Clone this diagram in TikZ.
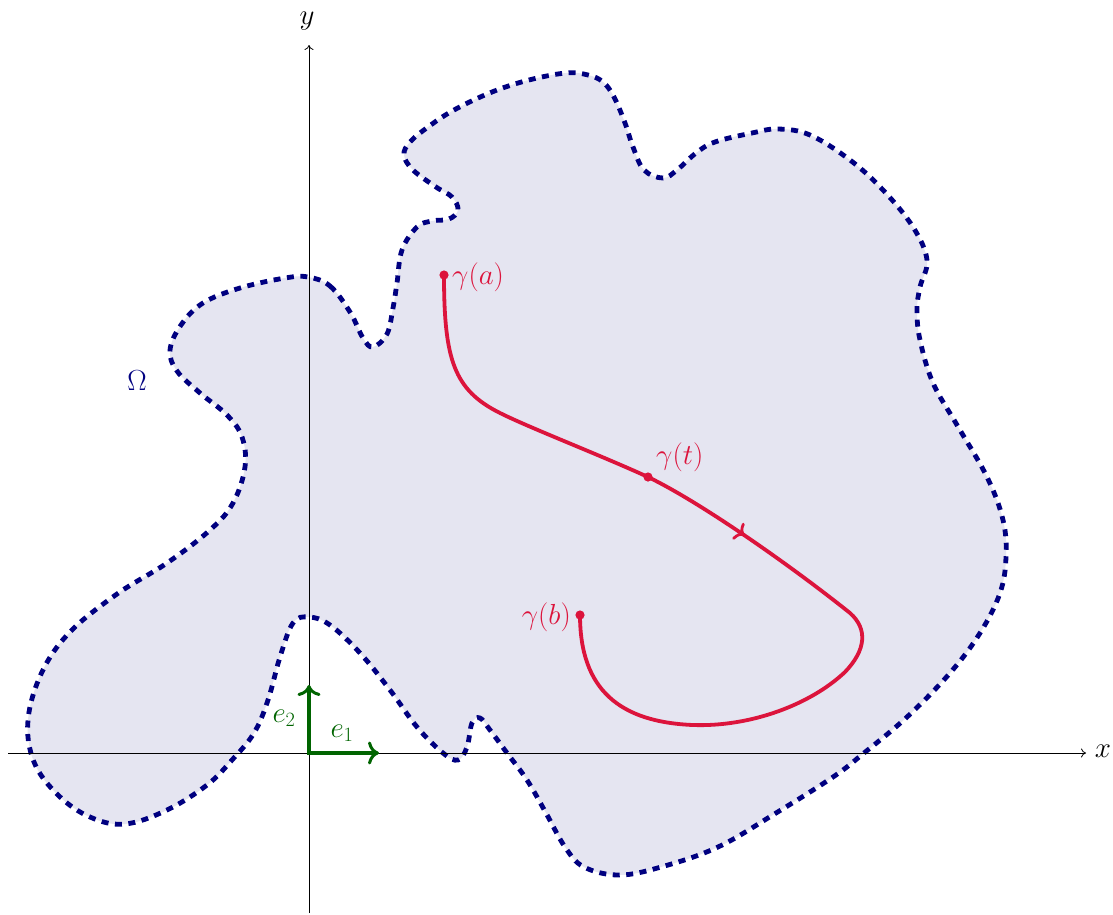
\documentclass[tikz,border=0pt]{standalone}
\usepackage{fix-cm}
\usetikzlibrary{decorations.markings,arrows.meta}
\definecolor{omeganavy}{RGB}{0,0,128}
\definecolor{omegafill}{RGB}{229,229,241}
\definecolor{curvered}{RGB}{220,20,60}
\definecolor{basisgreen}{RGB}{0,100,0}
\begin{document}
\begin{tikzpicture}[x=1pt,y=-1pt,
  lbl/.style={font=\fontsize{29}{34}\selectfont, inner sep=1pt},
  axisline/.style={line width=0.8pt,-{To[length=5pt,width=9pt]}},
  boundary/.style={draw=omeganavy, line width=4.8pt, dash pattern=on 7pt off 6.5pt,
     fill=omegafill, preaction={draw=white, line width=7pt}},
  curve/.style={draw=curvered, line width=3.8pt, line cap=round,
     postaction={decorate},
     decoration={markings, mark=at position 0.443 with {\arrow[line width=2.8pt]{To[length=8pt,width=20pt]}}}},
  basisvec/.style={draw=basisgreen, line width=3.8pt, -{To[length=11pt,width=23pt,line width=3pt]}},
  dotmark/.style={fill=curvered}
]
\useasboundingbox (0,0) rectangle (1113,914);

% region Omega
\path[boundary] plot[smooth cycle, tension=0.62] coordinates {
 (308,277) (330,286) (350,312) (363,338) (373,347) (387,334) (393,308) (397,283)
 (402,250) (417,227) (432,221) (449,219) (458,210) (452,197) (436,187) (413,170)
 (404,155) (410,142) (428,127) (454,110) (492,92) (529,80) (566,73) (588,75)
 (603,82) (614,97) (625,123) (633,147) (644,170) (663,178) (677,170) (696,153)
 (715,142) (752,133) (778,129) (810,135) (850,160) (883,190) (913,227) (927,260)
 (920,287) (917,310) (920,340) (933,383) (957,425) (987,477) (1003,520) (1006,557)
 (1000,593) (980,633) (950,673) (907,717) (864,753) (833,777) (776,813) (718,847)
 (661,867) (619,875) (584,867) (565,847) (546,813) (527,780) (507,753) (490,730)
 (480,718) (472,723) (467,747) (458,760) (443,753) (417,727) (390,690) (360,653)
 (330,625) (309,617) (293,623) (280,657) (268,700) (254,733) (232,760) (207,785)
 (167,810) (125,824) (90,817) (58,795) (34,762) (28,720) (42,672) (70,632)
 (117,594) (167,563) (210,530) (233,503) (245,467) (242,437) (227,415) (200,393)
 (177,371) (170,350) (181,325) (203,303) (240,288) (285,278)
};

% axes
\coordinate (xs) at (8,753);
\coordinate (xe) at (1086,753);
\coordinate (ys) at (309,913);
\coordinate (ye) at (309,45);
\draw[axisline] (xs) -- (xe);
\draw[axisline] (ys) -- (ye);
\node[lbl] (xlab) at (1103,751) {$x$};
\node[lbl] (ylab) at (307,21) {$y$};

% basis vectors
\coordinate (O) at (309,753);
\coordinate (e1tip) at (379,753);
\coordinate (e2tip) at (309,685);
\fill[basisgreen] (307.1,751.1) rectangle (310.9,754.9);
\draw[basisvec] (O) -- (e1tip);
\draw[basisvec] (O) -- (e2tip);
\node[lbl, text=basisgreen] (e1lab) at (342,733) {$e_1$};
\node[lbl, text=basisgreen] (e2lab) at (284,718) {$e_2$};

% Omega label
\node[lbl, text=omeganavy] (omlab) at (137,381) {$\Omega$};

% curve gamma
\coordinate (ga) at (444,275);
\coordinate (gt) at (648,477);
\coordinate (gb) at (580,615);
\draw[curve] (ga) .. controls (444,360) and (454,390) .. (500,413)
   .. controls (530,428) and (600,455) .. (gt)
   .. controls (700,502) and (790,565) .. (850,613)
   .. controls (868,629) and (866,650) .. (845,672)
   .. controls (810,705) and (750,727) .. (693,725)
   .. controls (620,722) and (580,690) .. (gb);
\fill[dotmark] (ga) circle (4.6pt);
\fill[dotmark] (gt) circle (4.6pt);
\fill[dotmark] (gb) circle (4.6pt);
\node[lbl, text=curvered, anchor=west] (galab) at (451,277) {$\gamma(a)$};
\node[lbl, text=curvered, anchor=west] (gtlab) at (655,457) {$\gamma(t)$};
\node[lbl, text=curvered, anchor=east] (gblab) at (572,617) {$\gamma(b)$};
\end{tikzpicture}
\end{document}
